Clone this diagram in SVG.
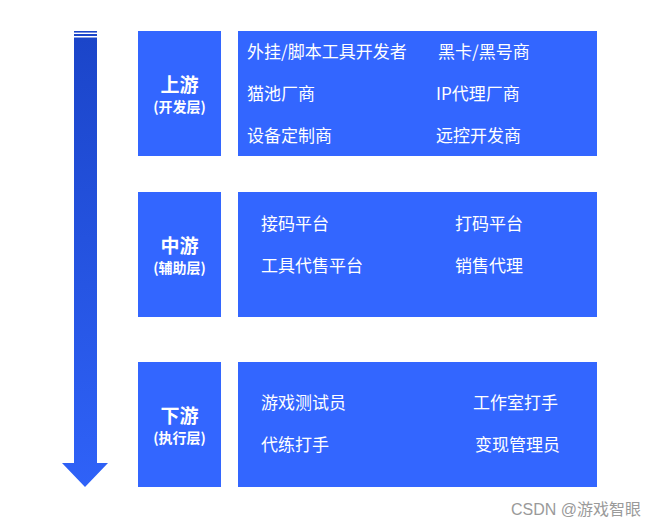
<svg xmlns="http://www.w3.org/2000/svg" width="662" height="525" viewBox="0 0 662 525">
<defs>
<linearGradient id="ag" x1="0" y1="0" x2="0" y2="1">
<stop offset="0" stop-color="#1b45c9"/>
<stop offset="1" stop-color="#2f62f8"/>
</linearGradient>
<style>
.box{fill:#3366ff}
.t{font-family:"Noto Sans CJK SC","Liberation Sans",sans-serif;font-size:17px;fill:#ffffff}
.h{font-family:"Noto Sans CJK SC","Liberation Sans",sans-serif;font-size:19px;font-weight:bold;fill:#ffffff;text-anchor:middle}
.s{font-family:"Noto Sans CJK SC","Liberation Sans",sans-serif;font-size:14px;font-weight:bold;fill:#ffffff;text-anchor:middle}
</style>
</defs>
<rect width="662" height="525" fill="#ffffff"/>
<g id="arrow">
<rect x="74" y="31" width="23" height="1.6" fill="#1b45c9"/>
<rect x="74" y="34" width="23" height="2" fill="#1b45c9"/>
<path d="M74 37.5 H97 V463 H108 L85 487 L62 463 H74 Z" fill="url(#ag)"/>
</g>
<g id="upstream">
<rect class="box" x="138" y="31" width="83" height="125"/>
<text class="h" x="179.5" y="92">上游</text>
<text class="s" x="179.5" y="112">(开发层)</text>
</g>
<g id="upstream-items">
<rect class="box" x="238" y="31" width="359" height="125"/>
<text class="t" x="247" y="58">外挂/脚本工具开发者</text>
<text class="t" x="438" y="58">黑卡/黑号商</text>
<text class="t" x="247" y="100">猫池厂商</text>
<text class="t" x="436" y="100">IP代理厂商</text>
<text class="t" x="247" y="142">设备定制商</text>
<text class="t" x="436" y="142">远控开发商</text>
</g>
<g id="midstream">
<rect class="box" x="138" y="192" width="83" height="125"/>
<text class="h" x="179.5" y="253">中游</text>
<text class="s" x="179.5" y="273">(辅助层)</text>
</g>
<g id="midstream-items">
<rect class="box" x="238" y="192" width="359" height="125"/>
<text class="t" x="261" y="230">接码平台</text>
<text class="t" x="455" y="230">打码平台</text>
<text class="t" x="261" y="272">工具代售平台</text>
<text class="t" x="455" y="272">销售代理</text>
</g>
<g id="downstream">
<rect class="box" x="138" y="362" width="83" height="125"/>
<text class="h" x="179.5" y="423">下游</text>
<text class="s" x="179.5" y="443">(执行层)</text>
</g>
<g id="downstream-items">
<rect class="box" x="238" y="362" width="359" height="125"/>
<text class="t" x="261" y="409">游戏测试员</text>
<text class="t" x="473" y="409">工作室打手</text>
<text class="t" x="261" y="451">代练打手</text>
<text class="t" x="475" y="451">变现管理员</text>
</g>
<text x="511" y="515" font-family="'Liberation Sans','Noto Sans CJK SC',sans-serif" font-size="16" fill="#9a9a9a">CSDN @游戏智眼</text>
</svg>
